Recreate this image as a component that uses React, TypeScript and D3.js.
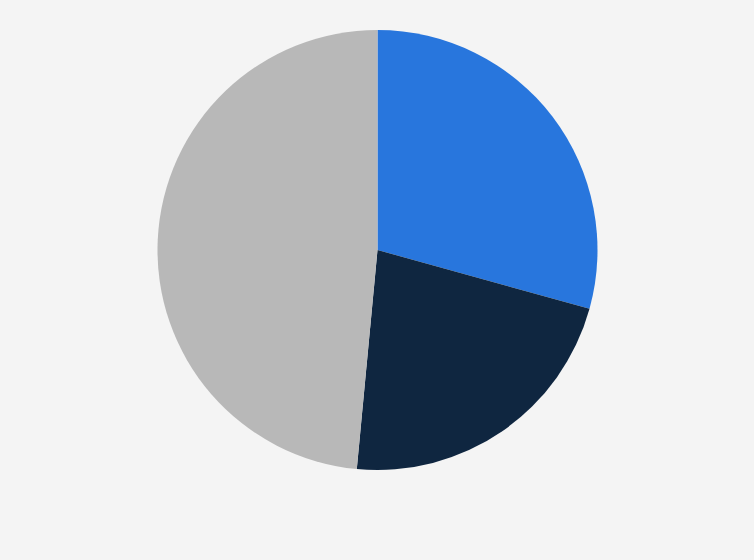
import React from "react";
import * as d3 from "d3";

const categories = ["A", "B", "C"];
const values = [29.3, 22.2, 48.5];
const colors = ["#2876dd", "#0f2640", "#b8b8b8"];

export default function App() {
  const width = 754;
  const height = 560;
  const cx = 377.5;
  const cy = 250;
  const r = 220;
  const pie = d3.pie<number>().sort(null).value((d) => d);
  const arcs = pie(values);
  const arc = d3.arc<d3.PieArcDatum<number>>().innerRadius(0).outerRadius(r);
  return (
    <div style={{ position: "fixed", left: 0, top: 0, width, height, background: "#f4f4f4" }}>
      <svg width={width} height={height}>
        <rect width={width} height={height} fill="#f4f4f4" />
        <g transform={`translate(${cx},${cy})`}>
          {arcs.map((a, i) => (
            <path key={categories[i]} d={arc(a) || ""} fill={colors[i]} />
          ))}
        </g>
      </svg>
    </div>
  );
}
